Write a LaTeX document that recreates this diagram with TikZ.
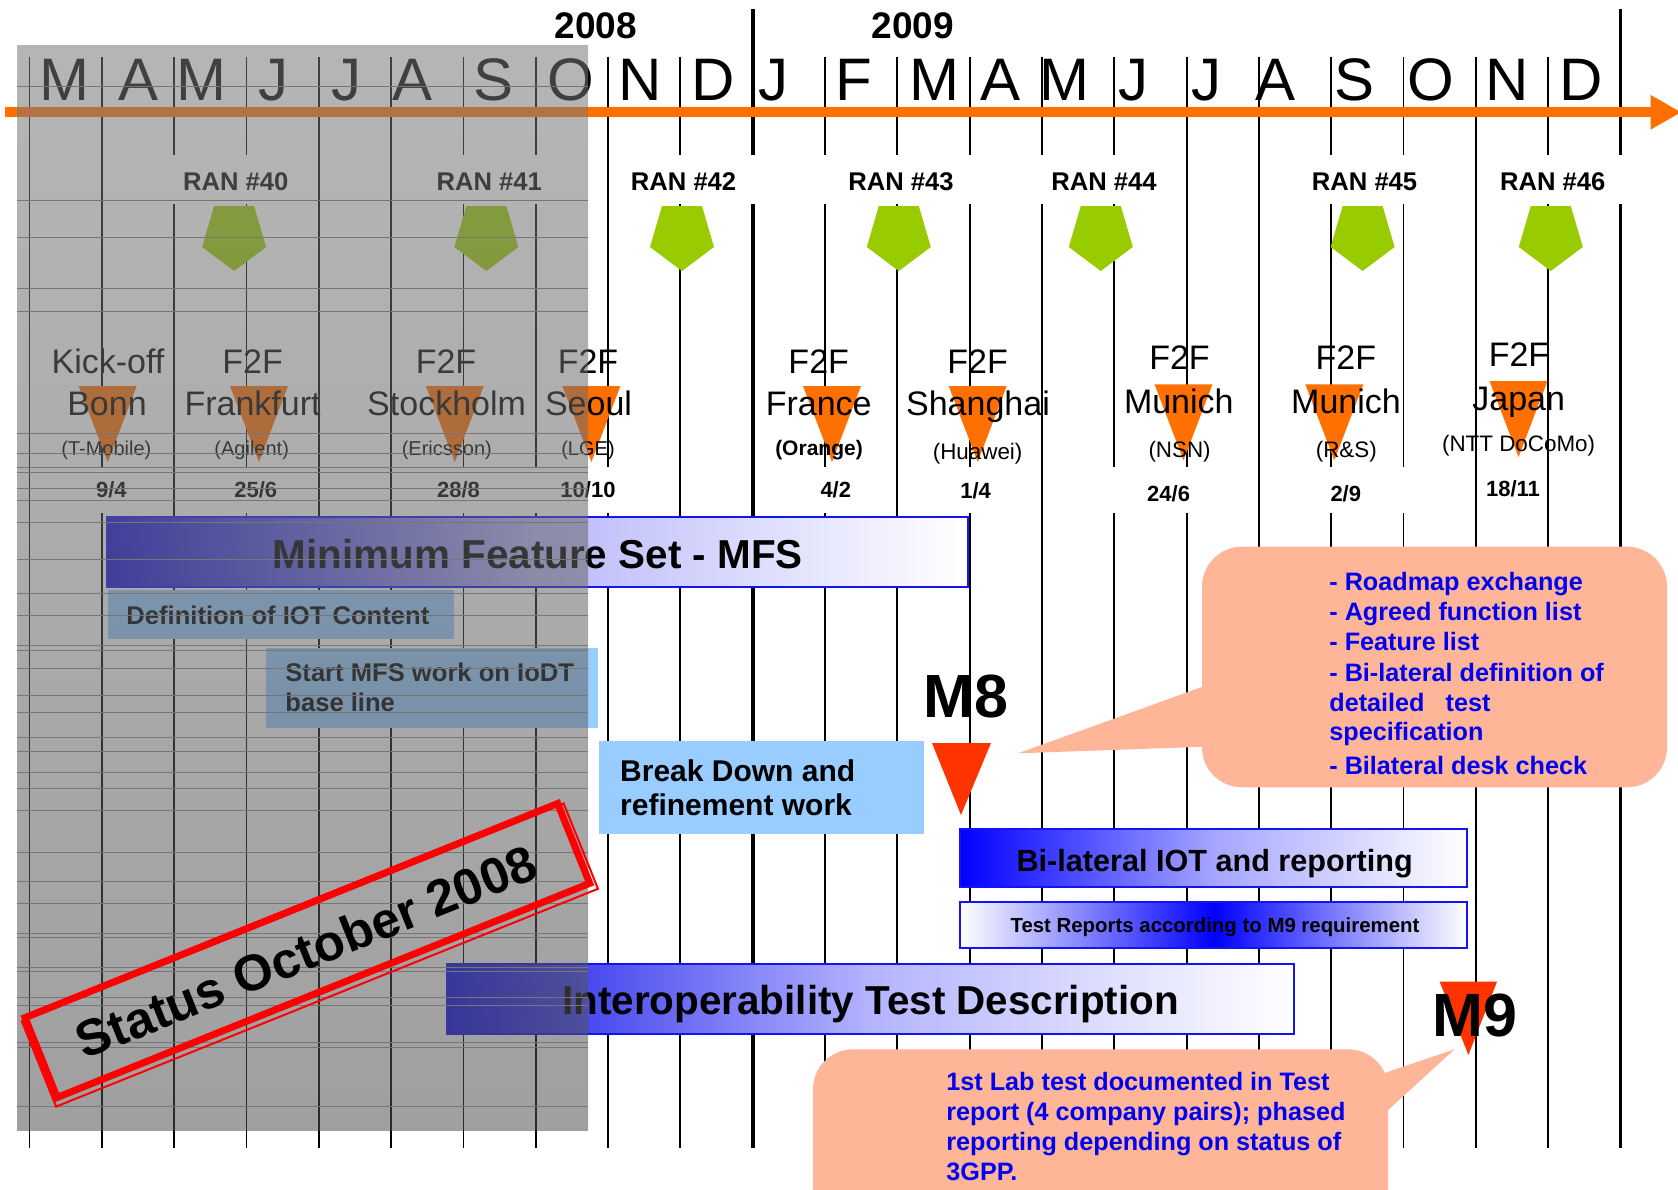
\documentclass[tikz,border=0pt]{standalone}
\usepackage{fontspec}
\setmainfont{Liberation Sans}
\definecolor{orng}{RGB}{255,112,0}
\definecolor{grn}{RGB}{153,204,0}
\definecolor{lblue}{RGB}{153,204,255}
\definecolor{callc}{RGB}{255,181,151}
\definecolor{mred}{RGB}{255,51,0}
\definecolor{txtblue}{RGB}{0,0,240}
\definecolor{barb}{RGB}{20,20,240}
\definecolor{ovtop}{RGB}{120,120,122}
\definecolor{ovbot}{RGB}{80,80,82}
\definecolor{hln}{RGB}{118,118,120}
\definecolor{mfsL}{RGB}{20,20,215}
\definecolor{mfsM}{RGB}{185,185,250}
\definecolor{ioL}{RGB}{20,20,230}
\definecolor{ioM}{RGB}{180,180,255}
\definecolor{biL}{RGB}{0,0,255}
\definecolor{biM}{RGB}{165,165,255}
\newcommand{\fsz}[1]{\fontsize{#1pt}{#1pt}\selectfont}
\newcommand{\ranpent}[1]{\fill[grn] (#1-20,206) -- (#1+20,206) -- (#1+32,247) -- (#1,271) -- (#1-32,247) -- cycle;}
\newcommand{\ftri}[2]{\fill[orng] (#1-29,#2) -- (#1+29,#2) -- (#1,#2+76) -- cycle;}
\tikzset{
  vl/.style={line width=0.9pt},
  yl/.style={line width=1.8pt},
  mon/.style={anchor=base, inner sep=0pt, font=\fsz{30}},
  yr/.style={anchor=base, inner sep=0pt, font=\bfseries\fsz{18.5}},
  ran/.style={anchor=base, inner sep=0pt, font=\bfseries\fsz{12.8}},
  f2f/.style={anchor=base, inner sep=0pt, font=\fsz{17}},
  parA/.style={inner sep=0pt, font=\fsz{10}},
  parB/.style={inner sep=0pt, font=\fsz{11.2}},
  dat/.style={inner sep=0pt, font=\bfseries\fsz{11}},
  bar/.style={draw=barb, line width=1pt},
  boxt/.style={anchor=base west, inner sep=0pt, font=\bfseries\fsz{12.8}},
  brkt/.style={anchor=base west, inner sep=0pt, font=\bfseries\fsz{15}},
  bigt/.style={anchor=base, inner sep=0pt, font=\bfseries\fsz{20.2}},
  midt/.style={anchor=base, inner sep=0pt, font=\bfseries\fsz{15.3}},
  smt/.style={anchor=base, inner sep=0pt, font=\bfseries\fsz{10.2}},
  mst/.style={anchor=base, inner sep=0pt, font=\bfseries\fsz{30.5}},
  cot/.style={anchor=base west, inner sep=0pt, text=txtblue, font=\bfseries\fsz{12.6}},
  hl/.style={draw=hln, line width=0.5pt}
}
\begin{document}
\begin{tikzpicture}[x=0.5pt,y=-0.5pt]
\useasboundingbox (0,0) rectangle (1678,1190);
\clip (0,0) rectangle (1678,1190);
\fill[white] (0,0) rectangle (1678,1190);

% ---------- vertical month lines ----------
\foreach \k in {0,4,5,17,20}{\draw[vl] ({29.5+72.32*\k},56.7) -- ({29.5+72.32*\k},1148);}
\foreach \k in {1,8,16}{\draw[vl] ({29.5+72.32*\k},56.7) -- ({29.5+72.32*\k},467) ({29.5+72.32*\k},513) -- ({29.5+72.32*\k},1148);}
\foreach \k in {2,9,12,14,21}{\draw[vl] ({29.5+72.32*\k},56.7) -- ({29.5+72.32*\k},155) ({29.5+72.32*\k},204) -- ({29.5+72.32*\k},1148);}
\foreach \k in {3,6,7,11,13,15,18,19}{\draw[vl] ({29.5+72.32*\k},56.7) -- ({29.5+72.32*\k},155) ({29.5+72.32*\k},204) -- ({29.5+72.32*\k},467) ({29.5+72.32*\k},513) -- ({29.5+72.32*\k},1148);}
\foreach \k in {10,22}{\draw[yl] ({29.5+72.32*\k},9.3) -- ({29.5+72.32*\k},155) ({29.5+72.32*\k},204) -- ({29.5+72.32*\k},1148);}

% ---------- time axis ----------
\coordinate (axL) at (5.4,112.3);
\coordinate (axR) at (1651,112.3);
\fill[orng] (5.4,107.3) rectangle (1651,117.3);
\fill[orng] (1650.7,95) -- (1681,112.3) -- (1650.7,129.6) -- cycle;

% ---------- months / years ----------
\foreach \x/\m [count=\i] in {64.3/M,138.7/A,201/M,273.8/J,346/J,413/A,494/S,570.5/O,640/N,713.6/D,773.6/J,854/F,934/M,1000.9/A,1064.4/M,1133.9/J,1206.6/J,1275.5/A,1354.6/S,1430.5/O,1507.5/N,1580.7/D}
  {\node[mon] (mon\i) at (\x,100.7) {\m};}
\node[yr] (y2008) at (596,38.3) {2008};
\node[yr] (y2009) at (913,38.3) {2009};

% ---------- RAN meetings ----------
\node[ran] (ran40) at (235.7,190.7) {RAN \#40};
\node[ran] (ran41) at (489.3,190.7) {RAN \#41};
\node[ran] (ran42) at (683.6,190.7) {RAN \#42};
\node[ran] (ran43) at (901,190.7) {RAN \#43};
\node[ran] (ran44) at (1104,190.7) {RAN \#44};
\node[ran] (ran45) at (1364.6,190.7) {RAN \#45};
\node[ran] (ran46) at (1552.8,190.7) {RAN \#46};
\ranpent{234.1}\ranpent{486.4}\ranpent{682}\ranpent{898.8}\ranpent{1100.8}\ranpent{1362.6}\ranpent{1550.8}

% ---------- F2F meetings ----------
\ftri{107.7}{386}\ftri{259}{386}\ftri{454.8}{386}\ftri{591.4}{386}\ftri{832}{386}\ftri{977.7}{386}
\ftri{1183.5}{384.3}\ftri{1334.3}{384.3}\ftri{1518.5}{381}

\node[f2f] (a1) at (108,373) {Kick-off};
\node[f2f] (b1) at (107,415) {Bonn};
\node[parA] (c1) at (106.4,450) {(T-Mobile)};
\node[dat] (d1) at (111.4,490) {9/4};

\node[f2f] (a2) at (252.6,373) {F2F};
\node[f2f] (b2) at (252.6,415) {Frankfurt};
\node[parA] (c2) at (251.7,450) {(Agilent)};
\node[dat] (d2) at (255.7,490) {25/6};

\node[f2f] (a3) at (446,373) {F2F};
\node[f2f] (b3) at (446.6,415) {Stockholm};
\node[parA] (c3) at (446.8,450) {(Ericsson)};
\node[dat] (d3) at (458.5,490) {28/8};

\node[f2f] (a4) at (588,373) {F2F};
\node[f2f] (b4) at (588.5,415) {Seoul};
\node[parA] (c4) at (588,450) {(LGE)};
\node[dat] (d4) at (588,490) {10/10};

\node[f2f] (a5) at (818.7,373) {F2F};
\node[f2f] (b5) at (818.7,415) {France};
\node[inner sep=0pt, font=\bfseries\fsz{10.5}] (c5) at (819,450.5) {(Orange)};
\node[dat] (d5) at (835.8,490) {4/2};

\node[f2f] (a6) at (977.6,373) {F2F};
\node[f2f] (b6) at (978,415) {Shanghai};
\node[parB] (c6) at (977.6,453.7) {(Huawei)};
\node[dat] (d6) at (975.6,490.3) {1/4};

\node[f2f] (a7) at (1179.5,369.5) {F2F};
\node[f2f] (b7) at (1178.8,413.5) {Munich};
\node[parB] (c7) at (1179.6,451.7) {(NSN)};
\node[dat] (d7) at (1168.6,493.3) {24/6};

\node[f2f] (a8) at (1345.8,369.5) {F2F};
\node[f2f] (b8) at (1346,413.5) {Munich};
\node[parB] (c8) at (1346.3,451.7) {(R\&S)};
\node[dat] (d8) at (1345.8,493.3) {2/9};

\node[f2f] (a9) at (1519,366) {F2F};
\node[f2f] (b9) at (1518.7,410) {Japan};
\node[parB] (c9) at (1518.6,446) {(NTT DoCoMo)};
\node[dat] (d9) at (1513,488.3) {18/11};

% ---------- work items ----------
\draw[bar, left color=mfsL, right color=white, middle color=mfsM] (107,517) rectangle (968,587);
\node[bigt] (mfs) at (537.8,568.3) {Minimum Feature Set - MFS};

\fill[lblue] (108,590) rectangle (454.3,639.3);
\node[boxt] (defi) at (126,624.3) {Definition of IOT Content};

\fill[lblue] (266,648.3) rectangle (598.4,727.7);
\node[boxt] (st1) at (285,681.7) {Start MFS work on IoDT};
\node[boxt] (st2) at (285,711.7) {base line};

\fill[lblue] (599,741) rectangle (924.4,834.3);
\node[brkt] (bd1) at (619.8,781.7) {Break Down and};
\node[brkt] (bd2) at (619.8,815) {refinement work};

\draw[bar, left color=biL, right color=white, middle color=biM] (960,828.5) rectangle (1467,886.7);
\node[midt] (bil) at (1214.7,871.7) {Bi-lateral IOT and reporting};

\draw[bar, left color=white, right color=white, middle color=biL] (960.4,901.7) rectangle (1467,947.7);
\node[smt] (trep) at (1215,932.7) {Test Reports according to M9 requirement};

\draw[bar, left color=ioL, right color=white, middle color=ioM] (447.3,964.3) rectangle (1294.3,1034.3);
\node[bigt] (itd) at (870.6,1014) {Interoperability Test Description};

% ---------- milestones ----------
\fill[mred] (932,743) -- (991,743) -- (961,815) -- cycle;
\node[mst] (m8) at (965.6,717.3) {M8};
\fill[mred] (1439.7,981.7) -- (1497,981.7) -- (1468.4,1055) -- cycle;
\node[mst] (m9) at (1474.7,1036) {M9};

% ---------- callouts ----------
\fill[callc, rounded corners=20pt] (1202,546.7) rectangle (1667,787.3);
\fill[callc] (1215,682.3) -- (1018,753.3) -- (1215,746.3) -- cycle;
\node[cot] (t1) at (1329,590) {- Roadmap exchange};
\node[cot] (t2) at (1329,620) {- Agreed function list};
\node[cot] (t3) at (1329,650) {- Feature list};
\node[cot] (t4) at (1329,681.7) {- Bi-lateral definition of};
\node[cot] (t5) at (1329,711.7) {detailed\ \ \ test};
\node[cot] (t6) at (1329,740) {specification};
\node[cot] (t7) at (1329,774) {- Bilateral desk check};

\fill[callc, rounded corners=20pt] (813,1049.3) rectangle (1388.2,1240);
\fill[callc] (1375,1076.2) -- (1454.6,1049.3) -- (1375,1122) -- cycle;
\node[cot] (u1) at (946,1090) {1st Lab test documented in Test};
\node[cot] (u2) at (946,1120) {report (4 company pairs); phased};
\node[cot] (u3) at (946,1150) {reporting depending on status of};
\node[cot] (u4) at (946,1180) {3GPP.};

% ---------- grey "past" overlay ----------
\shade[top color=ovtop, bottom color=ovbot, opacity=0.54] (17.1,45) rectangle (588.2,1130.7);
\foreach \y in {86,200,237,288,311,433,453,467,472,488,500,522,559,593,615,645,650,668,695,712,737,751,772,788,810,852,881,903,933,937,967,971,997,1005,1042,1047,1106}
  {\draw[hl] (17.1,\y) -- (588.2,\y);}

% ---------- status stamp ----------
\node[draw=red, line width=3.5pt, rotate=21.9, minimum width=287pt, minimum height=43pt, inner sep=0pt] (stampA) at (307.4,950.5) {};
\node[draw=red, line width=1pt, rotate=21.9, minimum width=292pt, minimum height=46pt, inner sep=0pt] (stampB) at (309.9,955) {};
\node[rotate=21.9, inner sep=0pt, font=\bfseries\fsz{25.4}] (stampT) at (306,951.5) {Status October 2008};
\end{tikzpicture}
\end{document}
